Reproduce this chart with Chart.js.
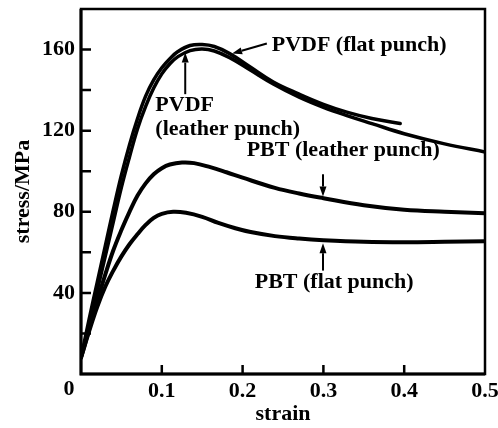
<!DOCTYPE html>
<html>
<head>
<meta charset="utf-8">
<script src="https://cdn.jsdelivr.net/npm/chart.js@4.4.1/dist/chart.umd.min.js"></script>
<style>
  body { margin: 0; background: #fff; }
</style>
</head>
<body>
<canvas id="stressChart" width="498" height="428"></canvas>
<script>
// stress-strain curves, strain in the x arrays, stress (MPa) in the y arrays
const pvdfFlatStrain = [0, 0.01, 0.02, 0.03, 0.04, 0.05, 0.06, 0.07, 0.08, 0.09, 0.1, 0.11, 0.12, 0.135, 0.15, 0.165, 0.184, 0.209, 0.238, 0.27, 0.3, 0.33, 0.36, 0.395];
const pvdfFlatStress = [8, 27, 45, 63, 81, 98, 113, 126, 137, 145, 151, 155.5, 159, 162, 162.5, 161.5, 158, 151.5, 144, 138, 133, 129, 126, 123.5];

const pvdfLeatherStrain = [0, 0.01, 0.02, 0.03, 0.04, 0.05, 0.06, 0.07, 0.08, 0.09, 0.1, 0.11, 0.12, 0.135, 0.15, 0.165, 0.184, 0.209, 0.238, 0.27, 0.3, 0.33, 0.36, 0.4, 0.45, 0.5];
const pvdfLeatherStress = [8, 24, 41, 58, 75, 92, 107, 121, 132, 141, 148, 153, 156.5, 159.5, 160.3, 159.3, 156, 150, 143, 136.5, 131.5, 127.3, 123.5, 118.5, 113.5, 109.5];

const pbtLeatherStrain = [0, 0.01, 0.02, 0.03, 0.04, 0.05, 0.06, 0.07, 0.08, 0.09, 0.1, 0.11, 0.125, 0.14, 0.16, 0.18, 0.2, 0.24, 0.27, 0.3, 0.35, 0.4, 0.45, 0.5];
const pbtLeatherStress = [8, 22, 36, 49, 61, 71, 80, 88, 94, 98.5, 101.5, 103.3, 104.3, 104, 102, 99.5, 96.8, 91.8, 89, 86.7, 83.2, 81, 80, 79.3];

const pbtFlatStrain = [0, 0.01, 0.02, 0.03, 0.04, 0.05, 0.06, 0.07, 0.08, 0.09, 0.1, 0.114, 0.13, 0.15, 0.17, 0.19, 0.21, 0.24, 0.27, 0.3, 0.35, 0.4, 0.45, 0.5];
const pbtFlatStress = [8, 21, 33, 43, 51, 58, 64, 69, 73.5, 77, 79, 80, 79.5, 77.5, 74.5, 72, 70, 68, 66.8, 66, 65.2, 65, 65.2, 65.5];

const xTicks = [0, 0.1, 0.2, 0.3, 0.4, 0.5];
const yTickLabels = [40, 80, 120, 160];

const serif = '"Liberation Serif", "DejaVu Serif", serif';

function toPoints(xs, ys) {
  return xs.map((x, i) => ({ x: x, y: ys[i] }));
}

function curve(xs, ys, width) {
  return {
    data: toPoints(xs, ys),
    showLine: true,
    borderColor: '#000',
    borderWidth: width,
    pointRadius: 0,
    fill: false,
    tension: 0.4,
    borderCapStyle: 'round'
  };
}

// labels and arrows placed in data units
const notes = [
  { text: 'PVDF (flat punch)', x: 0.236, y: 162 },
  { text: 'PVDF', x: 0.092, y: 132.5 },
  { text: '(leather punch)', x: 0.092, y: 120.5 },
  { text: 'PBT (leather punch)', x: 0.205, y: 110.3 },
  { text: 'PBT (flat punch)', x: 0.215, y: 45 }
];
const arrows = [
  { from: [0.230, 163], to: [0.187, 158] },
  { from: [0.129, 138], to: [0.129, 158.5] },
  { from: [0.2995, 98.5], to: [0.2995, 87.5] },
  { from: [0.2995, 51], to: [0.2995, 64.5] }
];

const framePlugin = {
  id: 'frame',
  afterDraw(chart) {
    const c = chart.ctx;
    const a = chart.chartArea;
    const xs = chart.scales.x;
    const ys = chart.scales.y;
    c.save();
    c.strokeStyle = '#000';
    c.fillStyle = '#000';

    // box round the plot
    c.lineWidth = 2.5;
    c.strokeRect(a.left, a.top, a.right - a.left, a.bottom - a.top);
    c.lineWidth = 3;
    c.beginPath();
    c.moveTo(a.left, a.top);
    c.lineTo(a.left, a.bottom);
    c.lineTo(a.right, a.bottom);
    c.stroke();

    // inward tick marks
    c.lineWidth = 2.5;
    c.beginPath();
    ys.ticks.forEach(t => {
      if (t.value <= 0 || t.value >= 180) return;
      const py = ys.getPixelForValue(t.value);
      c.moveTo(a.left, py);
      c.lineTo(a.left + 10, py);
    });
    xs.ticks.forEach(t => {
      if (t.value <= 0 || t.value >= 0.5) return;
      const px = xs.getPixelForValue(t.value);
      c.moveTo(px, a.bottom);
      c.lineTo(px, a.bottom - 9);
    });
    c.stroke();

    // origin label sits left of the corner
    c.font = 'bold 22px ' + serif;
    c.textAlign = 'center';
    c.textBaseline = 'top';
    c.fillText('0', xs.getPixelForValue(0) - 12, a.bottom + 4);

    // curve labels
    c.textAlign = 'left';
    c.textBaseline = 'middle';
    notes.forEach(n => {
      c.fillText(n.text, xs.getPixelForValue(n.x), ys.getPixelForValue(n.y));
    });

    // arrows
    c.lineWidth = 2;
    arrows.forEach(ar => {
      const x1 = xs.getPixelForValue(ar.from[0]);
      const y1 = ys.getPixelForValue(ar.from[1]);
      const x2 = xs.getPixelForValue(ar.to[0]);
      const y2 = ys.getPixelForValue(ar.to[1]);
      const ang = Math.atan2(y2 - y1, x2 - x1);
      const len = 10, half = 3.5;
      const bx = x2 - len * Math.cos(ang);
      const by = y2 - len * Math.sin(ang);
      c.beginPath();
      c.moveTo(x1, y1);
      c.lineTo(bx, by);
      c.stroke();
      c.beginPath();
      c.moveTo(x2, y2);
      c.lineTo(bx + half * Math.sin(ang), by - half * Math.cos(ang));
      c.lineTo(bx - half * Math.sin(ang), by + half * Math.cos(ang));
      c.closePath();
      c.fill();
    });
    c.restore();
  }
};

const ctx = document.getElementById('stressChart').getContext('2d');
const stressChart = new Chart(ctx, {
  type: 'scatter',
  data: {
    datasets: [
      curve(pvdfFlatStrain, pvdfFlatStress, 3.5),
      curve(pvdfLeatherStrain, pvdfLeatherStress, 3.5),
      curve(pbtLeatherStrain, pbtLeatherStress, 4),
      curve(pbtFlatStrain, pbtFlatStress, 4)
    ]
  },
  options: {
    responsive: false,
    devicePixelRatio: 1,
    animation: false,
    layout: { padding: { left: 0, top: 9, right: 13, bottom: 0 } },
    plugins: {
      legend: { display: false },
      tooltip: { enabled: false }
    },
    scales: {
      x: {
        type: 'linear',
        min: 0,
        max: 0.5,
        afterBuildTicks: scale => { scale.ticks = xTicks.map(v => ({ value: v })); },
        afterFit: scale => {
          scale.height = 54;
          scale.paddingLeft = 0;
          scale.paddingRight = 0;
        },
        grid: { display: false, drawTicks: false },
        border: { display: false },
        ticks: {
          padding: 4,
          maxRotation: 0,
          color: '#000',
          font: { family: serif, size: 22, weight: 'bold' },
          callback: v => v === 0 ? '' : v.toFixed(1)
        },
        title: {
          display: true,
          text: 'strain',
          color: '#000',
          font: { family: serif, size: 22, weight: 'bold' },
          padding: { top: 0, bottom: 0 }
        }
      },
      y: {
        type: 'linear',
        min: 0,
        max: 180,
        afterBuildTicks: scale => {
          const t = [];
          for (let v = 0; v <= 180; v += 20) t.push({ value: v });
          scale.ticks = t;
        },
        afterFit: scale => {
          scale.width = 81;
          scale.paddingTop = 0;
          scale.paddingBottom = 0;
        },
        grid: { display: false, drawTicks: false },
        border: { display: false },
        ticks: {
          padding: 6,
          color: '#000',
          font: { family: serif, size: 22, weight: 'bold' },
          callback: v => yTickLabels.includes(v) ? String(v) : ''
        },
        title: {
          display: true,
          text: 'stress/MPa',
          color: '#000',
          font: { family: serif, size: 22, weight: 'bold' },
          padding: { top: 10, bottom: 0 }
        }
      }
    }
  },
  plugins: [framePlugin]
});
</script>
</body>
</html>
